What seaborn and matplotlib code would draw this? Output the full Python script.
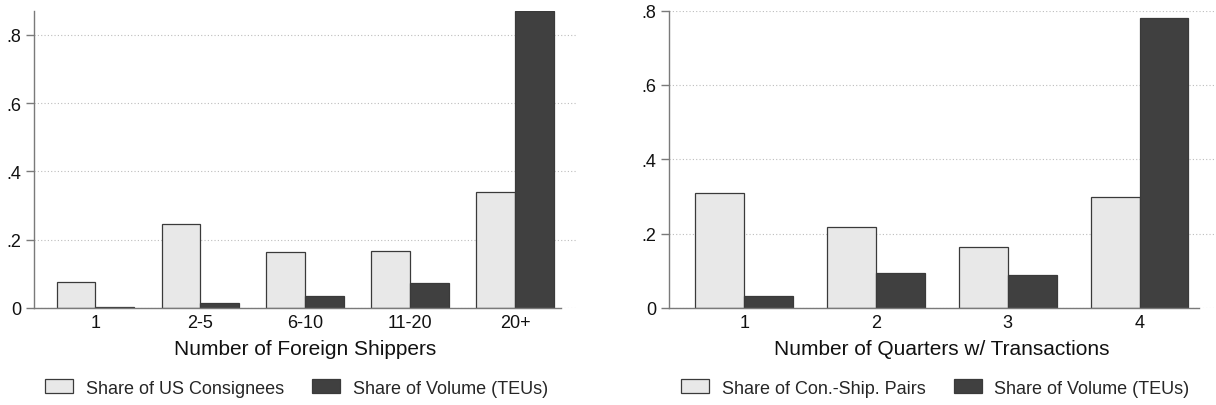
import matplotlib
matplotlib.use("Agg")
import matplotlib.pyplot as plt
import seaborn as sns
import pandas as pd
from matplotlib.patches import Patch

# ---- data ----
shipper_cats = ["1", "2-5", "6-10", "11-20", "20+"]
share_consignees = [0.075, 0.245, 0.163, 0.167, 0.340]
share_volume_left = [0.002, 0.015, 0.035, 0.072, 0.869]

quarter_cats = ["1", "2", "3", "4"]
share_pairs = [0.310, 0.219, 0.165, 0.299]
share_volume_right = [0.032, 0.093, 0.088, 0.780]

left_series = ["Share of US Consignees", "Share of Volume (TEUs)"]
right_series = ["Share of Con.-Ship. Pairs", "Share of Volume (TEUs)"]
left_xlabel = "Number of Foreign Shippers"
right_xlabel = "Number of Quarters w/ Transactions"
ytick_vals = [0, 0.2, 0.4, 0.6, 0.8]
ytick_labels = ["0", ".2", ".4", ".6", ".8"]

LIGHT = "#e8e8e8"
DARK = "#404040"
EDGE = "#3a3a3a"
AXC = "#7a7a7a"

sns.set_theme(style="white")
plt.rcParams["font.family"] = ["Liberation Sans", "DejaVu Sans"]

fig = plt.figure(figsize=(12.16, 4.06), dpi=100)
W, H = 1216, 406

def fx(px):
    return px / W

def fy(py):
    return 1 - py / H

ax_bottom = fy(309)
ax_h = (309 - 11.5) / H
axL = fig.add_axes([fx(33.5), ax_bottom, fx(577) - fx(33.5), ax_h])
axR = fig.add_axes([fx(669), ax_bottom, fx(1214.7) - fx(669), ax_h])


def long_df(cats, a, b, names):
    return pd.DataFrame({
        "cat": list(cats) + list(cats),
        "val": list(a) + list(b),
        "series": [names[0]] * len(cats) + [names[1]] * len(cats),
    })


def draw(ax, cats, a, b, names, xlabel, ylim_top, xlim, axis_end, legend_x):
    df = long_df(cats, a, b, names)
    sns.barplot(data=df, x="cat", y="val", hue="series", order=cats,
                hue_order=names, palette=[LIGHT, DARK], width=0.74,
                edgecolor=EDGE, linewidth=0.9, ax=ax, legend=False,
                saturation=1, zorder=3)
    ax.set_ylim(0, ylim_top)
    ax.set_xlim(*xlim)
    for v in ytick_vals:
        ax.axhline(v, color="#bdbdbd", lw=0.8, ls=(0, (1, 2)), zorder=1)
    ax.set_yticks(ytick_vals)
    ax.set_yticklabels(ytick_labels)
    ax.tick_params(axis="y", length=6, width=1.0, color=AXC, pad=3,
                   labelsize=13, left=True)
    ax.tick_params(axis="x", length=0, pad=4, labelsize=13)
    for t in ax.get_yticklabels() + ax.get_xticklabels():
        t.set_color("#111111")
    for s in ["top", "right"]:
        ax.spines[s].set_visible(False)
    for s in ["left", "bottom"]:
        ax.spines[s].set_color(AXC)
        ax.spines[s].set_linewidth(1.0)
        ax.spines[s].set_zorder(4)
    ax.spines["bottom"].set_bounds(xlim[0], axis_end)
    ax.set_xlabel(xlabel, fontsize=15, color="#111111", labelpad=6)
    ax.set_ylabel("")
    handles = [Patch(facecolor=LIGHT, edgecolor=EDGE, linewidth=0.9),
               Patch(facecolor=DARK, edgecolor=EDGE, linewidth=0.9)]
    fig.legend(handles, names, loc="center left",
               bbox_to_anchor=(fx(legend_x), fy(389)),
               bbox_transform=fig.transFigure, ncol=2, frameon=False,
               fontsize=13, handlelength=1.55, handleheight=0.78,
               handletextpad=0.7, columnspacing=1.57, borderpad=0,
               borderaxespad=0)


draw(axL, shipper_cats, share_consignees, share_volume_left, left_series,
     left_xlabel, 0.871, (-0.59, 4.59), 4.44, 45)
draw(axR, quarter_cats, share_pairs, share_volume_right, right_series,
     right_xlabel, 0.8, (-0.57, 3.57), 3.45, 681)

fig.savefig("out.png", dpi=100)
